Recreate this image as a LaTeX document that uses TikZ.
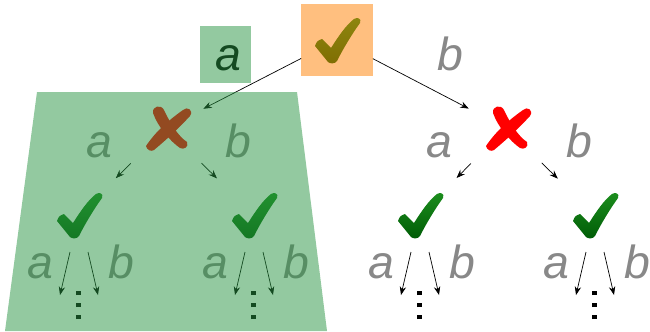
\documentclass[tikz,border=0pt]{standalone}
\usepackage{fontspec}
\setmainfont{Liberation Sans}
\usetikzlibrary{arrows.meta,positioning,calc}
\definecolor{veilgreen}{RGB}{40,148,66}
\definecolor{veilorange}{RGB}{255,127,0}
\definecolor{tickdark}{RGB}{0,92,6}
\definecolor{ticklight}{RGB}{28,142,30}
\definecolor{lblgray}{RGB}{136,136,136}
\newcommand{\sqdots}{\vbox{\offinterlineskip\hbox{\rule{3pt}{3pt}}\kern5.5pt\hbox{\rule{3pt}{3pt}}\kern5.5pt\hbox{\rule{3pt}{3pt}}}}
% brush tick and brush cross, drawn round a named node
\newcommand{\tickat}[1]{%
  \shade[top color=ticklight, bottom color=tickdark, shift={(#1)}]
    (-22,6) .. controls (-20,1) .. (-15,-1) -- (-6,8)
    .. controls (1,-3) and (9,-15) .. (17,-21)
    .. controls (20,-23) and (25,-22) .. (23,-17)
    .. controls (15,-6) and (6,9) .. (0,21)
    .. controls (-2,24) and (-7,24) .. (-9,22) -- cycle;}
\newcommand{\crossat}[1]{%
  \fill[red, shift={(#1)}]
    (-13,-15) .. controls (-14,-22) and (-5,-24) .. (-2,-18)
    .. controls (4,-5) and (12,8) .. (21,14)
    .. controls (23,19) and (18,22) .. (14,20)
    .. controls (4,13) and (-8,-1) .. cycle;
  \fill[red, shift={(#1)}]
    (17,-18) .. controls (21,-22) and (28,-18) .. (24,-12)
    .. controls (12,1) and (0,12) .. (-12,22)
    .. controls (-15,24) and (-19,22) .. (-20,18)
    .. controls (-10,3) and (3,-8) .. cycle;}
\tikzstyle{spot} =[circle, inner sep=0pt, minimum size=1.1cm]
\tikzstyle{lbl}  =[font=\itshape\fontsize{33}{33}\selectfont, text=lblgray, inner sep=0pt, anchor=base]
\tikzstyle{arr}  =[-{Stealth[length=6pt,width=4.5pt]}, line width=0.5pt]
\tikzstyle{veil} =[fill opacity=0.5]

\begin{document}
\begin{tikzpicture}[x=0.025cm, y=-0.025cm]
  \useasboundingbox (0,0) rectangle (650,331);

  % ── nodes ──────────────────────────────────────────────────────────────────
  \node[rectangle, inner sep=0pt, minimum width=1.775cm, minimum height=1.775cm] (root) at (337,40) {};
  \node[lbl, text=black] (topa) at (228,70) {a};
  \node[lbl]             (topb) at (450,70) {b};

  \node[spot] (crossL) at (166,128) {};
  \node[spot] (crossR) at (506,128) {};
  \node[lbl] (crossLa) at (99,157)  {a};
  \node[lbl] (crossLb) at (238,157) {b};
  \node[lbl] (crossRa) at (439,157) {a};
  \node[lbl] (crossRb) at (579,157) {b};

  \node[spot] (chkLL) at (79,215)  {};
  \node[spot] (chkLR) at (254,215) {};
  \node[spot] (chkRL) at (420,215) {};
  \node[spot] (chkRR) at (595,215) {};

  % ── marks ──────────────────────────────────────────────────────────────────
  \tickat{root}
  \crossat{crossL}
  \crossat{crossR}
  \foreach \c in {LL,LR,RL,RR}{\tickat{chk\c}}

  % ── edges ──────────────────────────────────────────────────────────────────
  \draw[arr, shorten >=1.05cm] (root) -- (crossL.center);
  \draw[arr, shorten >=1.05cm] (root) -- (crossR.center);
  \draw[arr, shorten <=1.25cm, shorten >=1.3cm] (crossL.center) -- (chkLL.center);
  \draw[arr, shorten <=1.25cm, shorten >=1.3cm] (crossL.center) -- (chkLR.center);
  \draw[arr, shorten <=1.25cm, shorten >=1.3cm] (crossR.center) -- (chkRL.center);
  \draw[arr, shorten <=1.25cm, shorten >=1.3cm] (crossR.center) -- (chkRR.center);

  % ── open subtrees below each check ─────────────────────────────────────────
  \foreach \c in {LL,LR,RL,RR}{
    \node[lbl] (\c a) at ($(chk\c)+(-39,63)$) {a};
    \node[lbl] (\c b) at ($(chk\c)+(42,63)$)  {b};
    \node[inner sep=0pt] (\c dots) at ($(chk\c)+(-0.5,90)$) {\sqdots};
    \coordinate (\c l) at ($(chk\c)+(-19,80)$);
    \coordinate (\c r) at ($(chk\c)+(19,80)$);
    \draw[arr] ($(chk\c)+(-9,37)$) -- (\c l);
    \draw[arr] ($(chk\c)+(9,37)$)  -- (\c r);
  }

  % ── translucent highlights on top ──────────────────────────────────────────
  \fill[veil, veilgreen] (37,92) -- (297,92) -- (327,331) -- (5,331) -- cycle;
  \fill[veil, veilgreen] (200,26) rectangle (251,83);
  \fill[veil, veilorange] (root.north west) rectangle (root.south east);

\end{tikzpicture}
\end{document}
